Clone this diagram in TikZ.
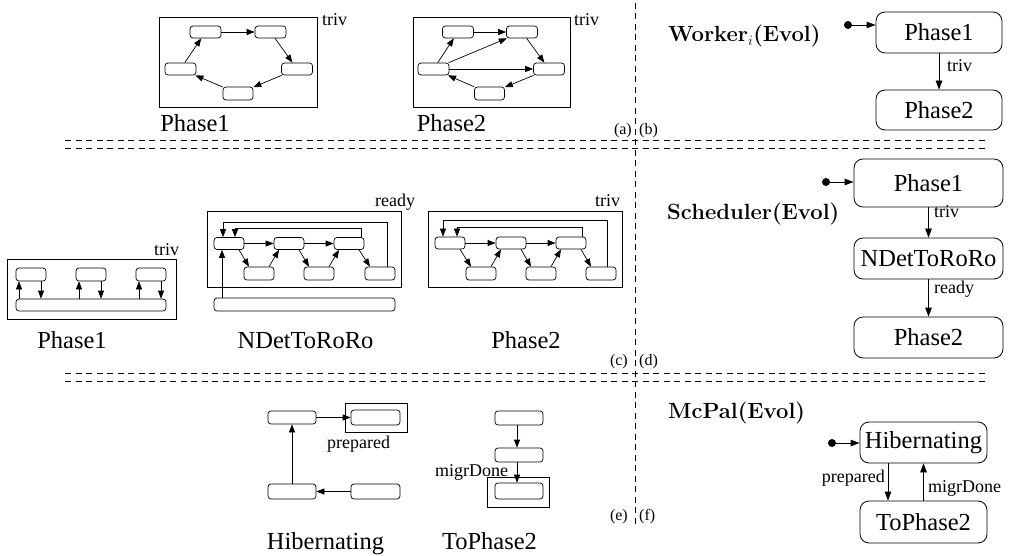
\documentclass[tikz,border=0pt]{standalone}
\usepackage{fontspec}
\newfontfamily\tms{Liberation Serif}
\usetikzlibrary{arrows.meta}
\tikzset{
 st/.style 2 args={draw, rounded corners=3pt, inner sep=0pt, line width=0.7pt, minimum width=#1pt, minimum height=#2pt},
 big/.style 2 args={draw, rounded corners=9pt, inner sep=0pt, line width=0.8pt, minimum width=#1pt, minimum height=#2pt, font=\tms\fontsize{24.5}{26}\selectfont},
 arr/.style={-{Triangle[length=8pt,width=6pt]}, line width=0.7pt},
 barr/.style={-{Triangle[length=9pt,width=6.5pt]}, line width=0.8pt},
 lbl/.style={font=\tms\fontsize{18}{20}\selectfont, inner sep=0pt},
 ttl/.style={font=\tms\fontsize{24.5}{26}\selectfont, inner sep=0pt},
 tag/.style={font=\tms\fontsize{16}{18}\selectfont, inner sep=0pt},
 head/.style={font=\fontsize{22}{24}\selectfont\bfseries, inner sep=0pt},
 frame/.style={draw, line width=0.8pt},
 sep/.style={dash pattern=on 6pt off 4.5pt, line width=0.8pt}
}
\begin{document}
\begin{tikzpicture}[x=1pt,y=-1pt]
\useasboundingbox (0,0) rectangle (1015,556);
% separators
\draw[sep] (65,140) -- (985,140);
\draw[sep] (65,148) -- (985,148);
\draw[sep] (65,373) -- (985,373);
\draw[sep] (65,381) -- (985,381);
\draw[sep] (635,3) -- (635,527);
% ---------- (a) Phase1
\draw[frame] (159,17) rectangle (317,107);
\node[st={31}{12}] (a1) at (205.5,32) {};
\node[st={31}{12}] (a2) at (270.5,32) {};
\node[st={31}{12}] (a3) at (180.5,69) {};
\node[st={31}{12}] (a4) at (297,69) {};
\node[st={30}{13}] (a5) at (238,93.5) {};
\draw[arr] (a1) -- (a2);
\draw[arr] (a2) -- (a4);
\draw[arr] (a4) -- (a5);
\draw[arr] (a5) -- (a3);
\draw[arr] (a3) -- (a1);
\node[lbl, anchor=base west] (la1) at (322,26) {triv};
\node[ttl, anchor=base] (ta1) at (195,132) {Phase1};
% ---------- (a) Phase2
\draw[frame] (413,17) rectangle (570,107);
\node[st={31}{12}] (b1) at (458,32) {};
\node[st={31}{12}] (b2) at (522,32) {};
\node[st={31}{12}] (b3) at (433.5,69) {};
\node[st={31}{12}] (b4) at (549,69) {};
\node[st={30}{13}] (b5) at (489.5,93.5) {};
\draw[arr] (b1) -- (b2);
\draw[arr] (b2) -- (b4);
\draw[arr] (b4) -- (b5);
\draw[arr] (b5) -- (b3);
\draw[arr] (b3) -- (b1);
\draw[arr] (b3) -- (b2);
\draw[arr] (b3) -- (b4);
\node[lbl, anchor=base west] (la2) at (574,26) {triv};
\node[ttl, anchor=base] (ta2) at (451.5,132) {Phase2};
\node[tag, anchor=base east] (tga) at (632,135) {(a)};
\node[tag, anchor=base west] (tgb) at (639,135) {(b)};
% ---------- (b) Worker
\node[head, anchor=base west] (hw) at (668,42) {Worker$_i$(Evol)};
\node[big={126}{41}] (w1) at (939,32.5) {Phase1};
\node[big={126}{40}] (w2) at (939,110) {Phase2};
\coordinate (wd) at (848,25);
\fill (wd) circle (4pt);
\draw[barr] (wd) -- (wd -| w1.west);
\draw[barr] (w1) -- (w2);
\node[lbl, anchor=base west] (lw) at (947,72) {triv};
% ---------- (c) Phase1
\draw[frame] (7,259) rectangle (176,319);
\node[st={30}{13}] (c1) at (31,274.5) {};
\node[st={30}{13}] (c2) at (91,274.5) {};
\node[st={30}{13}] (c3) at (151,274.5) {};
\node[st={150}{12}] (cb) at (91,305) {};
\foreach \n in {c1,c2,c3}{
 \draw[arr] ([xshift=-12pt]\n.south |- cb.north) -- ([xshift=-12pt]\n.south);
 \draw[arr] ([xshift=10pt]\n.south) -- ([xshift=10pt]\n.south |- cb.north);
}
\node[lbl, anchor=base west] (lc1) at (154,255) {triv};
\node[ttl, anchor=base] (tc1) at (72,348) {Phase1};
% ---------- (c) NDetToRoRo
\draw[frame] (207,211) rectangle (401,287);
\node[st={30}{12}] (n1) at (229,243.5) {};
\node[st={30}{12}] (n2) at (289,243.5) {};
\node[st={30}{12}] (n3) at (349,243.5) {};
\node[st={30}{13}] (m1) at (259,273.5) {};
\node[st={30}{13}] (m2) at (319,273.5) {};
\node[st={30}{13}] (m3) at (380,273.5) {};
\node[st={181}{13}] (nb) at (304.5,304.5) {};
\draw[arr] (n1) -- (n2);
\draw[arr] (n2) -- (n3);
\draw[arr] ([xshift=10pt]n1.south) -- ([xshift=-10pt]m1.north);
\draw[arr] ([xshift=10pt]m1.north) -- ([xshift=-10pt]n2.south);
\draw[arr] ([xshift=10pt]n2.south) -- ([xshift=-10pt]m2.north);
\draw[arr] ([xshift=10pt]m2.north) -- ([xshift=-10pt]n3.south);
\draw[arr] ([xshift=10pt]n3.south) -- ([xshift=-10pt]m3.north);
\draw[arr] ([xshift=7pt]m3.north) -- ++(0,-44) -| ([xshift=-6pt]n1.north);
\draw[arr] ([xshift=12pt]n3.north) -- ++(0,-8.5) -| ([xshift=6pt]n1.north);
\draw[arr] ([xshift=-7pt]n1.south |- nb.north) -- ([xshift=-7pt]n1.south);
\node[lbl, anchor=base west] (lc2) at (375,207) {ready};
\node[ttl, anchor=base] (tc2) at (305.5,348) {NDetToRoRo};
% ---------- (c) Phase2
\draw[frame] (428,211) rectangle (622,287);
\node[st={30}{12}] (r1) at (450,243) {};
\node[st={30}{12}] (r2) at (511,243) {};
\node[st={30}{12}] (r3) at (571,243) {};
\node[st={30}{13}] (u1) at (481,273.5) {};
\node[st={30}{13}] (u2) at (541,273.5) {};
\node[st={30}{13}] (u3) at (601,273.5) {};
\draw[arr] (r1) -- (r2);
\draw[arr] (r2) -- (r3);
\draw[arr] ([xshift=10pt]r1.south) -- ([xshift=-10pt]u1.north);
\draw[arr] ([xshift=10pt]u1.north) -- ([xshift=-10pt]r2.south);
\draw[arr] ([xshift=10pt]r2.south) -- ([xshift=-10pt]u2.north);
\draw[arr] ([xshift=10pt]u2.north) -- ([xshift=-10pt]r3.south);
\draw[arr] ([xshift=10pt]r3.south) -- ([xshift=-10pt]u3.north);
\draw[arr] ([xshift=6pt]u3.north) -- ++(0,-46) -| ([xshift=-7pt]r1.north);
\draw[arr] ([xshift=11pt]r3.north) -- ++(0,-9) -| ([xshift=7pt]r1.north);
\node[lbl, anchor=base west] (lc3) at (595,207) {triv};
\node[ttl, anchor=base] (tc3) at (526,348) {Phase2};
\node[tag, anchor=base east] (tgc) at (628,365) {(c)};
\node[tag, anchor=base west] (tgd) at (639,365) {(d)};
% ---------- (d) Scheduler
\node[head, anchor=base west] (hs) at (667,220) {Scheduler(Evol)};
\node[big={149}{48}] (s1) at (928.5,183) {Phase1};
\node[big={149}{41}] (s2) at (928.5,258.5) {NDetToRoRo};
\node[big={149}{41}] (s3) at (928.5,337.5) {Phase2};
\coordinate (sd) at (826,182);
\fill (sd) circle (4pt);
\draw[barr] (sd) -- (sd -| s1.west);
\draw[barr] (s1) -- (s2);
\draw[barr] (s2) -- (s3);
\node[lbl, anchor=base west] (ls1) at (934,218) {triv};
\node[lbl, anchor=base west] (ls2) at (934,294) {ready};
% ---------- (e) Hibernating
\node[st={48}{13}] (h1) at (292,417.5) {};
\draw[frame] (345,403) rectangle (407,432);
\node[st={49}{15}] (h2) at (375.5,417.5) {};
\node[st={48}{15}] (h3) at (292,491.5) {};
\node[st={49}{15}] (h4) at (375.5,491.5) {};
\draw[arr] (h1) -- (h2);
\draw[arr] (h4) -- (h3);
\draw[arr] (h3) -- (h1);
\node[lbl, anchor=base west] (le1) at (327,448) {prepared};
\node[ttl, anchor=base] (te1) at (325.5,549) {Hibernating};
% ---------- (e) ToPhase2
\node[st={48}{14}] (t1) at (519,418) {};
\node[st={48}{14}] (t2) at (519,455) {};
\draw[frame] (487,477) rectangle (549,507);
\node[st={48}{16}] (t3) at (519,491) {};
\draw[arr] ([xshift=-2pt]t1.south) -- ([xshift=-2pt]t2.north);
\draw[arr] ([xshift=-2pt]t2.south) -- ([xshift=-2pt]t3.north);
\node[lbl, anchor=base west] (le2) at (435,476) {migrDone};
\node[ttl, anchor=base] (te2) at (489.5,549) {ToPhase2};
\node[tag, anchor=base east] (tge) at (628,520) {(e)};
\node[tag, anchor=base west] (tgf) at (639,520) {(f)};
% ---------- (f) McPal
\node[head, anchor=base west] (hm) at (668,418) {McPal(Evol)};
\node[big={127}{41}] (k1) at (923.5,442.5) {Hibernating};
\node[big={127}{42}] (k2) at (923.5,522) {ToPhase2};
\coordinate (kd) at (832,443);
\fill (kd) circle (4pt);
\draw[barr] (kd) -- (kd -| k1.west);
\draw[barr] ([xshift=-35.5pt]k1.south) -- ([xshift=-35.5pt]k2.north);
\draw[barr] (k2) -- (k1);
\node[lbl, anchor=base east] (lk1) at (885,482) {prepared};
\node[lbl, anchor=base west] (lk2) at (928,492) {migrDone};
\end{tikzpicture}
\end{document}
